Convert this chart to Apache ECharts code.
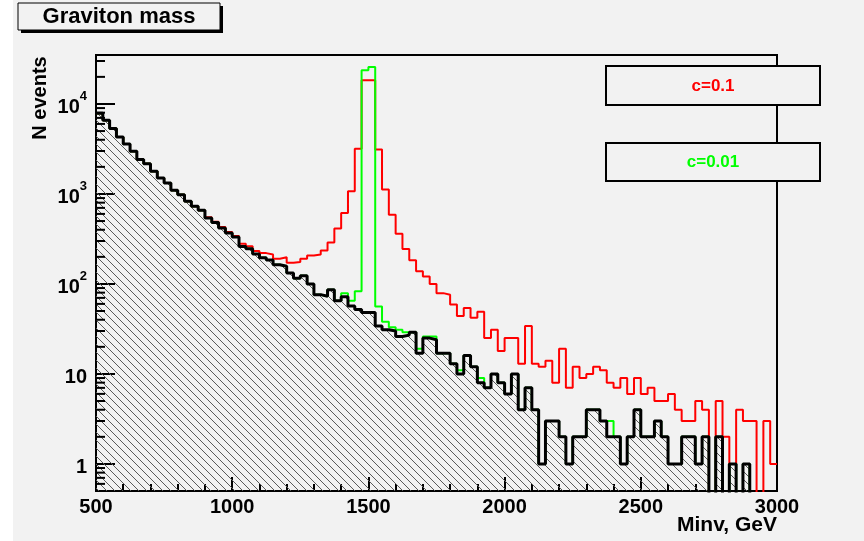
<!DOCTYPE html>
<html><head><meta charset="utf-8">
<script src="https://cdn.jsdelivr.net/npm/echarts@6/dist/echarts.min.js"></script>
<style>html,body{margin:0;padding:0;background:#fff}#c{width:864px;height:541px}</style>
</head><body><div id="c"></div>
<script>
// ---- data ----
const X_MIN = 500, X_MAX = 3000, BIN_WIDTH = 25;
const xTickLabels = ['500', '1000', '1500', '2000', '2500', '3000'];
const yDecades = [1, 10, 100, 1000, 10000];
const legendLabels = ['c=0.1', 'c=0.01'];
// background (hatched, black)
const background = [
  7900,6590,5330,4300,3600,2980,2410,2160,1785,1505,
  1325,1097,982,828,728,657,541,483,419,368,
  332,261,246,215,195,185,163,157,132,116,
  123,100,76,73,86,65,72,57,52,48,
  48,34,31,30,26,27,29,17,25,24,
  17,17,13,10,16,12,8,7,10,8,
  6,10,4,7,4,1,3,3,2,1,
  2,2,4,4,3,2,2,1,2,4,
  2,2,3,2,1,1,2,2,1,2,
  0,2,0,1,0,1,0,0,0,0];
// c=0.1 (red)
const signalC01 = [
  7900,6590,5330,4300,3600,2980,2410,2160,1785,1505,
  1325,1097,982,828,728,657,550,492,428,378,
  342,280,262,232,220,212,191,198,172,175,
  190,207,212,235,288,412,615,1069,3170,18400,
  18400,3110,1117,589,362,244,183,138,121,100,
  79,76,59,44,54,42,49,25,31,18,
  25,25,13,34,13,12,14,8,19,7,
  12,9,10,12,11,8,7,9,6,9,
  6,7,5,5,6,4,3,3,5,4,
  0,5,2,1,4,3,3,0,3,1];
// c=0.01 (green)
const signalC001 = [
  7900,6590,5330,4300,3600,2980,2410,2160,1785,1505,
  1325,1097,982,828,728,657,541,483,419,368,
  332,261,246,215,195,185,163,157,132,116,
  123,100,76,73,86,65,79,65,83,23700,
  25800,56,38,33,31,29,29,19,26,26,
  17,17,13,11,16,12,9,7,10,8,
  6,10,4,7,4,1,3,3,2,1,
  2,2,4,4,3,3,2,1,2,4,
  2,2,3,2,1,1,2,2,1,2,
  0,2,0,1,0,1,0,0,0,0];

// ---- build ----
const FONT = 'Liberation Sans';
const Y_MIN = 0.5, Y_MAX = 35000;
function steps(vals) {
  const pts = vals.map((v, i) => [X_MIN + i * BIN_WIDTH, v > 0 ? v : 1e-3]);
  pts.push([X_MAX, vals[vals.length - 1] > 0 ? vals[vals.length - 1] : 1e-3]);
  return pts;
}
function makeHatch() {
  const s = 8, c = document.createElement('canvas');
  c.width = s; c.height = s;
  const g = c.getContext('2d');
  g.strokeStyle = '#5a5a5a'; g.lineWidth = 1;
  g.beginPath();
  g.moveTo(-1, -1); g.lineTo(s + 1, s + 1);
  g.moveTo(-1, s - 1); g.lineTo(1, s + 1);
  g.moveTo(s - 1, -1); g.lineTo(s + 1, 1);
  g.stroke();
  return c;
}
const minorY = [];
[0.1, 1, 10, 100, 1000, 10000].forEach(d => {
  for (let m = 2; m <= 9; m++) { const v = m * d; if (v > Y_MIN * 1.001 && v < Y_MAX) minorY.push([X_MIN, v]); }
});

const chart = echarts.init(document.getElementById('c'), null, {renderer: 'canvas'});
const BG = '#f2f2f2';
chart.setOption({
  backgroundColor: '#ffffff',
  animation: false,
  grid: {left: 96, top: 55, width: 681, height: 436, show: true, borderColor: '#000', borderWidth: 2, backgroundColor: 'transparent'},
  xAxis: {
    type: 'value', min: X_MIN, max: X_MAX, interval: 500,
    axisLine: {lineStyle: {color: '#000', width: 2}},
    axisTick: {inside: true, length: 14, lineStyle: {color: '#000', width: 2}},
    minorTick: {show: true, splitNumber: 5, length: 7, lineStyle: {color: '#000', width: 2}},
    splitLine: {show: false},
    axisLabel: {margin: 6, color: '#000', fontFamily: FONT, fontWeight: 'bold', fontSize: 20,
      formatter: v => { const i = Math.round((v - X_MIN) / 500); return xTickLabels[i] || ''; }}
  },
  yAxis: {
    type: 'log', logBase: 10, min: Y_MIN, max: Y_MAX,
    axisLine: {lineStyle: {color: '#000', width: 2}},
    axisTick: {inside: true, length: 19, lineStyle: {color: '#000', width: 2}},
    splitLine: {show: false},
    axisLabel: {
      margin: 9, color: '#000', fontFamily: FONT, fontWeight: 'bold', fontSize: 20,
      showMinLabel: false, showMaxLabel: false,
      formatter: v => {
        const l = Math.log10(v), e = Math.round(l);
        if (Math.abs(l - e) > 1e-6 || yDecades.indexOf(Math.pow(10, e)) < 0) return '';
        if (e <= 1) return '{b|' + String(Math.pow(10, e)) + '}';
        return '{b|10}{s|' + e + '}';
      },
      rich: {
        b: {fontFamily: FONT, fontWeight: 'bold', fontSize: 20, lineHeight: 28, verticalAlign: 'bottom', color: '#000'},
        s: {fontFamily: FONT, fontWeight: 'bold', fontSize: 13, lineHeight: 13, verticalAlign: 'top', color: '#000'}
      }
    }
  },
  graphic: [
    {type: 'rect', z: -100, silent: true, shape: {x: 13, y: 0, width: 851, height: 541}, style: {fill: BG}},
    {type: 'rect', z: 100, shape: {x: 21, y: 6, width: 202, height: 27}, style: {fill: '#000'}},
    {type: 'rect', z: 101, shape: {x: 18, y: 3, width: 202, height: 27}, style: {fill: BG, stroke: '#000', lineWidth: 1}},
    {type: 'text', z: 102, x: 119, y: 17, style: {text: 'Graviton mass', font: 'bold 22px "Liberation Sans"', fill: '#000', textAlign: 'center', textVerticalAlign: 'middle'}},
    {type: 'rect', z: 100, shape: {x: 606, y: 66, width: 214, height: 39}, style: {fill: BG, stroke: '#000', lineWidth: 2}},
    {type: 'text', z: 101, x: 713, y: 86, style: {text: legendLabels[0], font: 'bold 17px "Liberation Sans"', fill: '#ff0000', textAlign: 'center', textVerticalAlign: 'middle'}},
    {type: 'rect', z: 100, shape: {x: 606, y: 143, width: 214, height: 38}, style: {fill: BG, stroke: '#000', lineWidth: 2}},
    {type: 'text', z: 101, x: 713, y: 162, style: {text: legendLabels[1], font: 'bold 17px "Liberation Sans"', fill: '#00ff00', textAlign: 'center', textVerticalAlign: 'middle'}},
    {type: 'text', z: 100, x: 40, y: 98, rotation: Math.PI / 2, style: {text: 'N events', font: 'bold 20px "Liberation Sans"', fill: '#000', textAlign: 'center', textVerticalAlign: 'middle'}},
    {type: 'text', z: 100, x: 777, y: 525, style: {text: 'Minv, GeV', font: 'bold 21px "Liberation Sans"', fill: '#000', textAlign: 'right', textVerticalAlign: 'middle'}}
  ],
  series: [
    {type: 'line', name: 'bg-fill', data: steps(background), step: 'end', showSymbol: false, symbol: 'none',
      lineStyle: {width: 0, opacity: 0}, areaStyle: {origin: 'start', color: {image: makeHatch(), repeat: 'repeat'}, opacity: 1}, z: 2},
    {type: 'line', name: legendLabels[0], data: steps(signalC01), step: 'end', symbol: 'none',
      lineStyle: {color: '#ff0000', width: 2}, z: 3},
    {type: 'line', name: legendLabels[1], data: steps(signalC001), step: 'end', symbol: 'none',
      lineStyle: {color: '#00ff00', width: 2}, z: 4},
    {type: 'line', name: 'background', data: steps(background), step: 'end', symbol: 'none',
      lineStyle: {color: '#000', width: 3}, z: 5},
    {type: 'custom', name: 'minor-y', data: minorY, encode: {x: 0, y: 1}, silent: true, clip: false, z: 6,
      renderItem: (params, api) => {
        const p = api.coord([api.value(0), api.value(1)]);
        return {type: 'line', shape: {x1: p[0], y1: p[1], x2: p[0] + 9, y2: p[1]}, style: {stroke: '#000', lineWidth: 2}};
      }}
  ]
});
</script></body></html>
